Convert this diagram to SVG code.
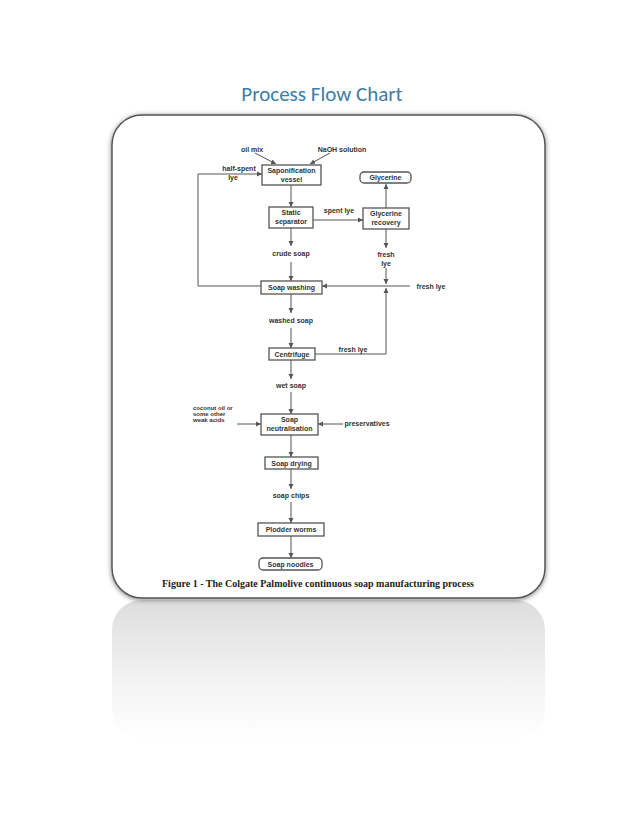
<svg xmlns="http://www.w3.org/2000/svg" width="638" height="826" viewBox="0 0 638 826">
<defs>
<style>
.b{fill:#fff;stroke:#555;stroke-width:1.3}
.t{font-family:"Liberation Sans",Arial,sans-serif;font-weight:bold;font-size:7px;fill:#333;text-anchor:middle}
.c{stroke:#555;stroke-width:1;fill:none}
.a{marker-end:url(#ah)}
</style>
<marker id="ah" markerWidth="6" markerHeight="6" refX="5" refY="3" orient="auto" markerUnits="userSpaceOnUse"><path d="M0,0.5 L5,3 L0,5.5z" fill="#555"/></marker>
<linearGradient id="refl" x1="0" y1="0" x2="0" y2="1"><stop offset="0" stop-color="#ddd"/><stop offset="0.6" stop-color="#f4f4f4"/><stop offset="1" stop-color="#fff"/></linearGradient>
<filter id="sh" x="-10%" y="-10%" width="120%" height="120%"><feDropShadow dx="0" dy="1" stdDeviation="2.5" flood-color="#000" flood-opacity="0.5"/></filter>
</defs>
<rect width="638" height="826" fill="#fff"/>
<text x="322" y="101" font-family="Carlito,'Liberation Sans',sans-serif" font-size="21" fill="#3b7ea8" text-anchor="middle">Process Flow Chart</text>
<rect x="112" y="600" width="433" height="140" rx="30" fill="url(#refl)"/>
<rect x="112" y="115" width="433" height="483" rx="30" fill="#fff" stroke="#555" stroke-width="1.5" filter="url(#sh)"/>
<g id="connectors">
<path class="c a" d="M255,153 L276,164"/>
<path class="c a" d="M330,153 L310,164"/>
<path class="c a" d="M291,185 V207"/>
<path class="c a" d="M313,220 H363"/>
<path class="c a" d="M386,208 V184"/>
<path class="c a" d="M291,228 V246"/>
<path class="c a" d="M291,262 V281"/>
<path class="c a" d="M386,229 V248"/>
<path class="c a" d="M386,268 V284"/>
<path class="c a" d="M410,286 H322"/>
<path class="c a" d="M261,286 H198 V174 H262"/>
<path class="c a" d="M291,294 V313"/>
<path class="c a" d="M291,328 V348"/>
<path class="c a" d="M315,354 H386 V288"/>
<path class="c a" d="M291,360 V379"/>
<path class="c a" d="M291,392 V414"/>
<path class="c a" d="M237,424 H261"/>
<path class="c a" d="M343,424 H318"/>
<path class="c a" d="M291,435 V457"/>
<path class="c a" d="M291,469 V489"/>
<path class="c a" d="M291,502 V523"/>
<path class="c a" d="M291,536 V558"/>
</g>
<g class="t">
<text x="252" y="152">oil mix</text>
<text x="342" y="152">NaOH solution</text>
<text x="239" y="171">half-spent</text>
<text x="233" y="180">lye</text>
<text x="339" y="213">spent lye</text>
<text x="291" y="256">crude soap</text>
<text x="386" y="257">fresh</text>
<text x="386" y="266">lye</text>
<text x="431" y="289">fresh lye</text>
<text x="291" y="323">washed soap</text>
<text x="353" y="352">fresh lye</text>
<text x="291" y="388">wet soap</text>
<text x="367" y="426">preservatives</text>
<text x="291" y="498">soap chips</text>
</g>
<g class="t" style="text-anchor:start;font-size:6px">
<text x="193" y="410">coconut oil or</text>
<text x="193" y="416">some other</text>
<text x="193" y="422">weak acids</text>
</g>
<g id="saponification"><rect class="b" x="262" y="165" width="59" height="20"/><text class="t" x="291.5" y="173">Saponification</text><text class="t" x="291.5" y="182">vessel</text></g>
<g id="static"><rect class="b" x="269" y="207" width="44" height="21"/><text class="t" x="291" y="215">Static</text><text class="t" x="291" y="224">separator</text></g>
<g id="glyrec"><rect class="b" x="363" y="208" width="46" height="21"/><text class="t" x="386" y="216">Glycerine</text><text class="t" x="386" y="225">recovery</text></g>
<g id="glycerine"><rect class="b" x="360" y="172" width="51" height="11" rx="4"/><text class="t" x="385.5" y="180">Glycerine</text></g>
<g id="washing"><rect class="b" x="261" y="281" width="61" height="13"/><text class="t" x="291.5" y="290">Soap washing</text></g>
<g id="centrifuge"><rect class="b" x="269" y="348" width="46" height="12"/><text class="t" x="292" y="357">Centrifuge</text></g>
<g id="neutral"><rect class="b" x="261" y="414" width="57" height="21"/><text class="t" x="289.5" y="422">Soap</text><text class="t" x="289.5" y="431">neutralisation</text></g>
<g id="drying"><rect class="b" x="265" y="457" width="53" height="12"/><text class="t" x="291.5" y="466">Soap drying</text></g>
<g id="plodder"><rect class="b" x="258" y="523" width="66" height="13"/><text class="t" x="291" y="532">Plodder worms</text></g>
<g id="noodles"><rect class="b" x="259" y="558" width="63" height="12" rx="4"/><text class="t" x="290.5" y="567">Soap noodles</text></g>
<text x="318" y="587" font-family="'Liberation Serif',serif" font-weight="bold" font-size="10" fill="#222" text-anchor="middle">Figure 1 - The Colgate Palmolive continuous soap manufacturing process</text>
</svg>
